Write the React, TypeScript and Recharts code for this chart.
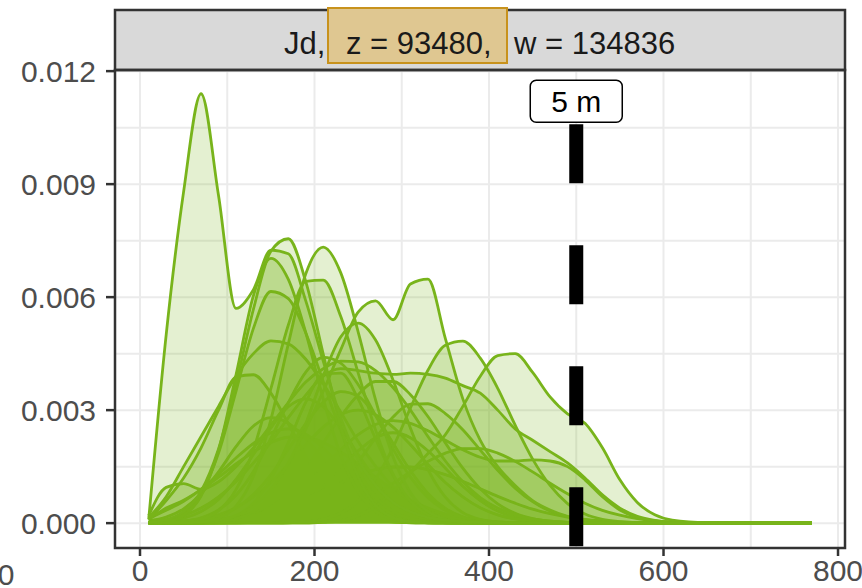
import { ComposedChart, Area, XAxis, YAxis, CartesianGrid, ReferenceLine, ReferenceDot } from 'recharts';

// evaluation grid (distance)
const xs = [10, 30, 50, 70, 90, 110, 130, 150, 170, 190, 210, 230, 250, 270, 290, 310, 330, 350, 370, 390, 410, 430, 450, 470, 490, 510, 530, 550, 570, 590, 610, 650, 700, 770];

// densities, in units of 1e-5
const dTall = [10, 500, 880, 1140, 870, 570, 620, 725, 715, 590, 430, 280, 170, 100, 55, 30, 15, 8, 4, 2, 1, 0, 0, 0, 0, 0, 0, 0, 0, 0, 0, 0, 0, 0];
const d164 = [2, 9, 31, 85, 197, 369, 568, 722, 755, 641, 449, 257, 123, 47, 15, 4, 1, 0, 0, 0, 0, 0, 0, 0, 0, 0, 0, 0, 0, 0, 0, 0, 0, 0];
const d209 = [0, 1, 1, 3, 13, 45, 125, 275, 476, 662, 733, 665, 508, 327, 176, 81, 31, 10, 3, 1, 0, 0, 0, 0, 0, 0, 0, 0, 0, 0, 0, 0, 0, 0];
const d200 = [0, 1, 3, 10, 33, 89, 195, 357, 526, 642, 645, 549, 399, 247, 130, 58, 22, 7, 2, 1, 0, 0, 0, 0, 0, 0, 0, 0, 0, 0, 0, 0, 0, 0];
const d151 = [1, 4, 21, 72, 193, 393, 604, 703, 647, 506, 330, 181, 84, 32, 10, 3, 1, 0, 0, 0, 0, 0, 0, 0, 0, 0, 0, 0, 0, 0, 0, 0, 0, 0];
const d155 = [2, 7, 27, 80, 186, 350, 517, 615, 596, 505, 376, 245, 139, 70, 31, 12, 4, 1, 0, 0, 0, 0, 0, 0, 0, 0, 0, 0, 0, 0, 0, 0, 0, 0];
const d155b = [15, 70, 150, 230, 310, 390, 450, 484, 476, 435, 370, 295, 217, 151, 96, 57, 32, 16, 8, 4, 2, 1, 0, 0, 0, 0, 0, 0, 0, 0, 0, 0, 0, 0];
const d240 = [20, 95, 105, 90, 110, 150, 200, 260, 320, 375, 410, 430, 428, 405, 360, 300, 230, 165, 110, 68, 40, 22, 11, 5, 2, 1, 0, 0, 0, 0, 0, 0, 0, 0];
const d321 = [0, 0, 1, 3, 8, 20, 45, 90, 160, 250, 350, 460, 560, 590, 540, 635, 648, 490, 330, 220, 150, 100, 60, 35, 18, 8, 3, 1, 0, 0, 0, 0, 0, 0];
const d363 = [0, 0, 0, 0, 0, 0, 0, 0, 1, 3, 10, 26, 59, 117, 201, 306, 406, 472, 483, 438, 358, 260, 170, 100, 52, 24, 10, 4, 1, 0, 0, 0, 0, 0];
const d424 = [0, 0, 0, 0, 0, 0, 0, 0, 0, 0, 2, 6, 20, 45, 85, 135, 185, 235, 310, 390, 445, 450, 400, 335, 290, 265, 200, 115, 55, 22, 8, 1, 0, 0];
const dFlat = [2, 8, 20, 40, 70, 110, 160, 215, 280, 340, 390, 410, 405, 398, 395, 398, 395, 385, 365, 345, 300, 250, 220, 190, 160, 120, 75, 40, 18, 7, 2, 0, 0, 0];
const d249 = [0, 0, 0, 1, 3, 11, 31, 75, 153, 264, 391, 494, 531, 486, 380, 252, 143, 69, 28, 10, 3, 1, 0, 0, 0, 0, 0, 0, 0, 0, 0, 0, 0, 0];
const d214 = [0, 2, 5, 14, 35, 74, 137, 225, 320, 401, 440, 425, 368, 286, 197, 122, 68, 34, 15, 6, 2, 1, 0, 0, 0, 0, 0, 0, 0, 0, 0, 0, 0, 0];
const d280 = [0, 0, 1, 2, 5, 12, 26, 51, 91, 146, 213, 283, 341, 376, 376, 341, 283, 213, 146, 91, 51, 26, 12, 5, 2, 1, 0, 0, 0, 0, 0, 0, 0, 0];
const d221 = [0, 0, 0, 1, 6, 19, 53, 117, 214, 321, 394, 398, 330, 224, 126, 57, 21, 7, 2, 1, 0, 0, 0, 0, 0, 0, 0, 0, 0, 0, 0, 0, 0, 0];
const d250 = [1, 2, 5, 11, 22, 41, 70, 108, 156, 208, 255, 288, 300, 288, 255, 208, 156, 108, 70, 41, 22, 11, 5, 2, 1, 0, 0, 0, 0, 0, 0, 0, 0, 0];
const d320 = [0, 0, 0, 0, 0, 1, 2, 6, 14, 30, 60, 104, 162, 226, 282, 316, 317, 291, 248, 194, 140, 93, 57, 32, 17, 8, 4, 2, 1, 0, 0, 0, 0, 0];
const d180 = [10, 40, 61, 89, 122, 157, 189, 214, 228, 228, 214, 189, 157, 122, 89, 61, 40, 24, 14, 7, 3, 1, 0, 0, 0, 0, 0, 0, 0, 0, 0, 0, 0, 0];
const d380 = [0, 0, 0, 0, 1, 1, 2, 3, 6, 12, 21, 34, 53, 78, 106, 136, 164, 186, 198, 198, 186, 164, 136, 106, 78, 53, 34, 21, 12, 6, 3, 1, 0, 0];
const d120 = [9, 60, 120, 200, 300, 388, 394, 345, 264, 178, 104, 54, 25, 10, 3, 1, 0, 0, 0, 0, 0, 0, 0, 0, 0, 0, 0, 0, 0, 0, 0, 0, 0, 0];
const d300b = [0, 0, 1, 3, 7, 15, 28, 48, 75, 110, 150, 195, 235, 262, 272, 265, 245, 220, 195, 175, 165, 165, 168, 165, 150, 115, 70, 35, 15, 6, 2, 0, 0, 0];
const d170 = [12, 34, 58, 90, 130, 173, 212, 240, 250, 236, 200, 152, 103, 62, 34, 17, 7, 3, 1, 0, 0, 0, 0, 0, 0, 0, 0, 0, 0, 0, 0, 0, 0, 0];
const d300 = [1, 2, 3, 6, 10, 16, 25, 37, 53, 71, 91, 111, 129, 142, 149, 149, 142, 129, 111, 91, 71, 53, 37, 25, 16, 10, 6, 3, 2, 1, 1, 0, 0, 0];
const d190 = [2, 5, 13, 31, 63, 116, 182, 253, 309, 330, 309, 253, 182, 116, 63, 31, 13, 5, 2, 0, 0, 0, 0, 0, 0, 0, 0, 0, 0, 0, 0, 0, 0, 0];
const d235 = [0, 1, 3, 8, 19, 40, 76, 128, 196, 264, 321, 349, 337, 286, 212, 139, 79, 39, 17, 7, 2, 1, 0, 0, 0, 0, 0, 0, 0, 0, 0, 0, 0, 0];
const d290 = [0, 0, 0, 0, 1, 3, 7, 16, 32, 60, 98, 146, 192, 227, 240, 227, 192, 146, 98, 60, 32, 16, 7, 3, 1, 0, 0, 0, 0, 0, 0, 0, 0, 0];
const d150 = [6, 16, 38, 78, 136, 203, 258, 280, 265, 224, 170, 115, 70, 38, 18, 8, 3, 1, 0, 0, 0, 0, 0, 0, 0, 0, 0, 0, 0, 0, 0, 0, 0, 0];

const curves = [d300, d290, d170, d150, d180, d190, d250, d235, d380, d300b, d320, d280, d120, dFlat, d240, d214, d221, d249, d155b, d424, d363, d321, d200, d155, d151, d209, d164, dTall];

const xTicks = [0, 200, 400, 600, 800];
const yTicks = [0, 0.003, 0.006, 0.009, 0.012];
const xGrid = [0, 100, 200, 300, 400, 500, 600, 700, 800];
const yGrid = [0, 0.0015, 0.003, 0.0045, 0.006, 0.0075, 0.009, 0.0105, 0.012];

const cutoff = 500;
const cutoffLabel = '5 m';
const cutoffTop = 0.01059;
const labelY = 0.0112;

const stripParts = ['Jd,', 'z = 93480,', 'w = 134836'];

const xDomain: [number, number] = [-28.65, 808];
const yDomain: [number, number] = [-0.00066, 0.01203];

const table = xs.map((x, i) => {
  const row: Record<string, number> = { x };
  curves.forEach((c, k) => {
    row[`s${k}`] = c[i] / 1e5;
  });
  return row;
});

const FONT = '"Liberation Sans", Arial, sans-serif';
const GREEN = '#78b41b';

function LabelBox(props: any) {
  const { cx, cy } = props;
  return (
    <g>
      <rect x={cx - 46} y={cy - 21} width={92} height={42} rx={6} fill="#fff" stroke="#000" strokeWidth={1.5} />
      <text x={cx} y={cy} dy="0.36em" textAnchor="middle" fontSize={30} fontFamily={FONT} fill="#000">
        {cutoffLabel}
      </text>
    </g>
  );
}

export default function App() {
  return (
    <div style={{ position: 'absolute', left: 0, top: 0, width: 862, height: 588, background: '#fff', overflow: 'hidden' }}>
      <ComposedChart width={862} height={588} data={table} margin={{ top: 70, right: 17, bottom: 0, left: 0 }}>
        <CartesianGrid stroke="#ebebeb" strokeWidth={2} verticalValues={xGrid} horizontalValues={yGrid} />
        <XAxis
          type="number"
          dataKey="x"
          domain={xDomain}
          allowDataOverflow
          ticks={xTicks}
          interval={0}
          height={40}
          axisLine={false}
          tickLine={{ stroke: '#333', strokeWidth: 2.5 }}
          tickSize={8}
          tickMargin={4}
          tick={{ fontSize: 30, fill: '#4d4d4d', fontFamily: FONT }}
        />
        <YAxis
          type="number"
          domain={yDomain}
          allowDataOverflow
          ticks={yTicks}
          interval={0}
          width={115}
          axisLine={false}
          tickLine={{ stroke: '#333', strokeWidth: 2.5 }}
          tickSize={9}
          tickMargin={10}
          tickFormatter={(v: number) => v.toFixed(3)}
          tick={{ fontSize: 30, fill: '#4d4d4d', fontFamily: FONT }}
        />
        {curves.map((_, k) => (
          <Area
            key={k}
            type="monotone"
            dataKey={`s${k}`}
            stroke={GREEN}
            strokeWidth={2.8}
            fill={GREEN}
            fillOpacity={0.2}
            baseValue={0}
            dot={false}
            activeDot={false}
            isAnimationActive={false}
          />
        ))}
        <ReferenceLine
          segment={[{ x: cutoff, y: cutoffTop }, { x: cutoff, y: yDomain[0] }]}
          stroke="#000"
          strokeWidth={14}
          strokeDasharray="59 62"
          ifOverflow="visible"
        />
        <ReferenceDot x={cutoff} y={labelY} r={0} shape={LabelBox} ifOverflow="visible" />
      </ComposedChart>
      <svg width={862} height={588} style={{ position: 'absolute', left: 0, top: 0, pointerEvents: 'none' }}>
        <rect x={115} y={10} width={730} height={60} fill="#d9d9d9" stroke="#333" strokeWidth={2.5} />
        <rect x={328} y={8} width={179} height={55} fill="#dfc791" stroke="#c8921c" strokeWidth={2} />
        <text x={284} y={54} fontSize={31} fontFamily={FONT} fill="#1a1a1a">{stripParts[0]}</text>
        <text x={346} y={54} fontSize={31} fontFamily={FONT} fill="#1a1a1a">{stripParts[1]}</text>
        <text x={514} y={54} fontSize={31} fontFamily={FONT} fill="#1a1a1a">{stripParts[2]}</text>
        <rect x={115} y={70} width={730} height={478} fill="none" stroke="#333" strokeWidth={2.5} />
        <text x={6} y={585} textAnchor="middle" fontSize={30} fontFamily={FONT} fill="#4d4d4d">0</text>
      </svg>
    </div>
  );
}
